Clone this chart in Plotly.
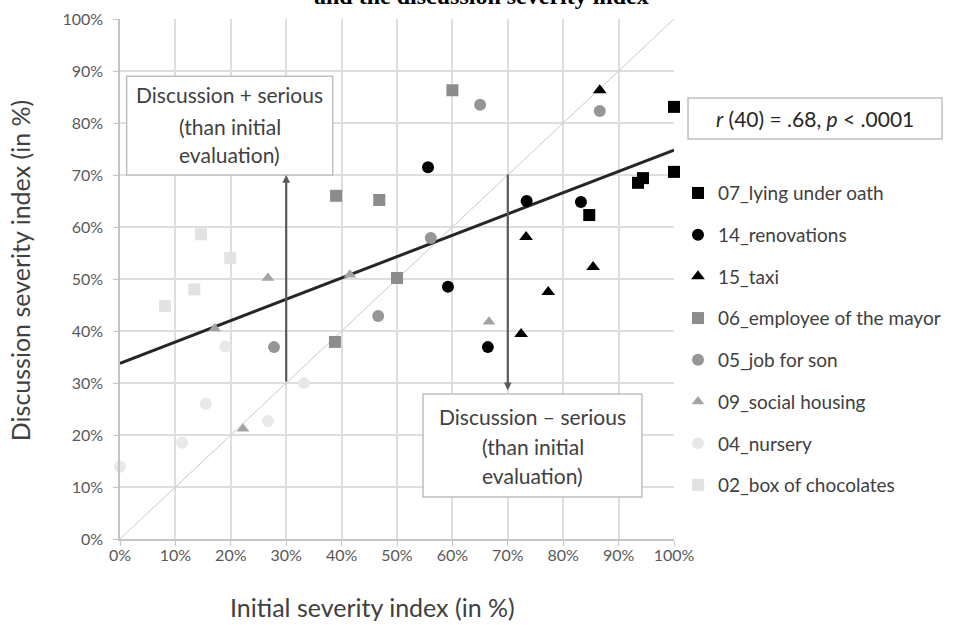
import plotly.graph_objects as go

# ---- data ----
series_names = ["07_lying under oath", "14_renovations", "15_taxi",
                "06_employee of the mayor", "05_job for son", "09_social housing",
                "04_nursery", "02_box of chocolates"]

x_07 = [100.0, 100.0, 93.5, 94.4, 84.7]
y_07 = [83.1, 70.6, 68.5, 69.4, 62.3]

x_14 = [55.6, 73.4, 83.2, 59.2, 66.4]
y_14 = [71.5, 65.0, 64.8, 48.5, 36.9]

x_15 = [86.6, 73.3, 85.4, 77.3, 72.4]
y_15 = [86.3, 58.1, 52.3, 47.5, 39.4]

x_06 = [60.0, 39.0, 46.8, 50.0, 38.8]
y_06 = [86.3, 66.0, 65.2, 50.2, 37.9]

x_05 = [65.0, 86.6, 56.1, 46.6, 27.8]
y_05 = [83.5, 82.3, 57.9, 42.9, 36.9]

x_09 = [26.7, 41.5, 17.1, 22.2, 66.6]
y_09 = [50.2, 50.8, 40.5, 21.2, 41.8]

x_04 = [0.0, 11.2, 15.5, 19.0, 26.7, 33.2]
y_04 = [13.9, 18.5, 26.0, 37.0, 22.7, 30.0]

x_02 = [14.6, 19.9, 13.4, 8.1]
y_02 = [58.6, 54.0, 48.0, 44.8]

trend_x = [0, 100]
trend_y = [33.8, 74.8]

identity_x = [0, 100]
identity_y = [0, 100]

tick_vals = [0, 10, 20, 30, 40, 50, 60, 70, 80, 90, 100]
tick_text = [f"{v}%" for v in tick_vals]

# ---- styling ----
FONT = "Lato"
xs = [x_07, x_14, x_15, x_06, x_05, x_09, x_04, x_02]
ys = [y_07, y_14, y_15, y_06, y_05, y_09, y_04, y_02]
symbols = ["square", "circle", "triangle-up", "square", "circle", "triangle-up", "circle", "square"]
colors = ["#000000", "#000000", "#000000", "#8c8c8c", "#969696", "#a3a3a3", "#e8e8e8", "#e2e2e2"]
sizes = [12, 12, 12, 12, 12, 11, 12, 12]

fig = go.Figure()

fig.add_trace(go.Scatter(x=identity_x, y=identity_y, mode="lines",
                         line=dict(color="#c8c8c8", width=1), showlegend=False,
                         hoverinfo="skip"))
fig.add_trace(go.Scatter(x=trend_x, y=trend_y, mode="lines",
                         line=dict(color="#262626", width=3), showlegend=False,
                         hoverinfo="skip"))

for i, name in enumerate(series_names):
    fig.add_trace(go.Scatter(
        x=xs[i], y=ys[i], mode="markers", name=name,
        legendgroup=name,
        marker=dict(symbol=symbols[i], color=colors[i], size=sizes[i], line=dict(width=0)),
        cliponaxis=False,
    ))

axis_common = dict(
    range=[0, 100], tickvals=tick_vals, ticktext=tick_text,
    showgrid=True, gridcolor="#dedede", gridwidth=1.5,
    showline=True, linecolor="#c4c4c4", linewidth=1.5,
    ticks="outside", ticklen=5, tickcolor="#c4c4c4",
    tickfont=dict(family=FONT, size=16, color="#595959"),
    zeroline=False, fixedrange=True, automargin=False,
)

fig.update_layout(
    width=954, height=625,
    margin=dict(l=120, r=280, t=19, b=86, autoexpand=False),
    paper_bgcolor="white", plot_bgcolor="white",
    xaxis=dict(axis_common, ticklabelstandoff=-4),
    yaxis=dict(axis_common, ticklabelstandoff=7),
    font=dict(family=FONT),
    legend=dict(
        x=1.0072, y=0.7017, xanchor="left", yanchor="top",
        font=dict(family=FONT, size=19, color="#404040"),
        tracegroupgap=14, itemwidth=30, bgcolor="rgba(0,0,0,0)",
    ),
    showlegend=True,
)

# boxes for the two arrow labels
fig.add_shape(type="rect", xref="x", yref="y", x0=1.2, x1=38.4, y0=70.0, y1=89.0,
              line=dict(color="#bfbfbf", width=1.5), fillcolor="white", layer="above")
fig.add_shape(type="rect", xref="x", yref="y", x0=54.7, x1=94.2, y0=8.1, y1=27.9,
              line=dict(color="#bfbfbf", width=1.5), fillcolor="white", layer="above")

box_font = dict(family=FONT, size=21, color="#404040")
for txt, yy in [("Discussion + serious", 85.4), ("(than initial", 79.4), ("evaluation)", 74.0)]:
    fig.add_annotation(x=19.8, y=yy, xref="x", yref="y", text=txt, showarrow=False,
                       xanchor="center", yanchor="middle", font=box_font)
for txt, yy in [("Discussion \u2013 serious", 23.5), ("(than initial", 17.7), ("evaluation)", 12.3)]:
    fig.add_annotation(x=74.5, y=yy, xref="x", yref="y", text=txt, showarrow=False,
                       xanchor="center", yanchor="middle", font=box_font)

# arrows
fig.add_annotation(x=30, y=70, ax=30, ay=30, xref="x", yref="y", axref="x", ayref="y",
                   text="", showarrow=True, arrowhead=2, arrowsize=0.7, arrowwidth=2.2,
                   arrowcolor="#5a5a5a", standoff=0, startstandoff=0)
fig.add_annotation(x=70, y=28.6, ax=70, ay=70.4, xref="x", yref="y", axref="x", ayref="y",
                   text="", showarrow=True, arrowhead=2, arrowsize=0.7, arrowwidth=2.2,
                   arrowcolor="#5a5a5a", standoff=0, startstandoff=0)

# correlation box
fig.add_shape(type="rect", xref="paper", yref="paper", x0=1.0253, x1=1.4838, y0=0.769, y1=0.848,
              line=dict(color="#bfbfbf", width=1.5), fillcolor="white")
fig.add_annotation(x=1.2545, y=0.8087, xref="paper", yref="paper",
                   text="<i>r</i> (40) = .68, <i>p</i> &lt; .0001", showarrow=False,
                   xanchor="center", yanchor="middle",
                   font=dict(family=FONT, size=21, color="#262626"))

# axis titles
fig.add_annotation(x=-0.1805, y=0.515, xref="paper", yref="paper",
                   text="Discussion severity index (in %)", showarrow=False, textangle=-90,
                   xanchor="center", yanchor="middle",
                   font=dict(family=FONT, size=25, color="#404040"))
fig.add_annotation(x=0.455, y=-0.1308, xref="paper", yref="paper",
                   text="Initial severity index (in %)", showarrow=False,
                   xanchor="center", yanchor="middle",
                   font=dict(family=FONT, size=25, color="#404040"))

# partially cut-off title at the top
fig.add_annotation(x=0.653, y=1.0442, xref="paper", yref="paper",
                   text="<b>and the discussion severity index</b>", showarrow=False,
                   xanchor="center", yanchor="middle",
                   font=dict(family="Liberation Serif", size=24, color="#000000"))

fig.write_html("out.html", config={"displayModeBar": False},
               post_script="document.body.style.margin='0';")
